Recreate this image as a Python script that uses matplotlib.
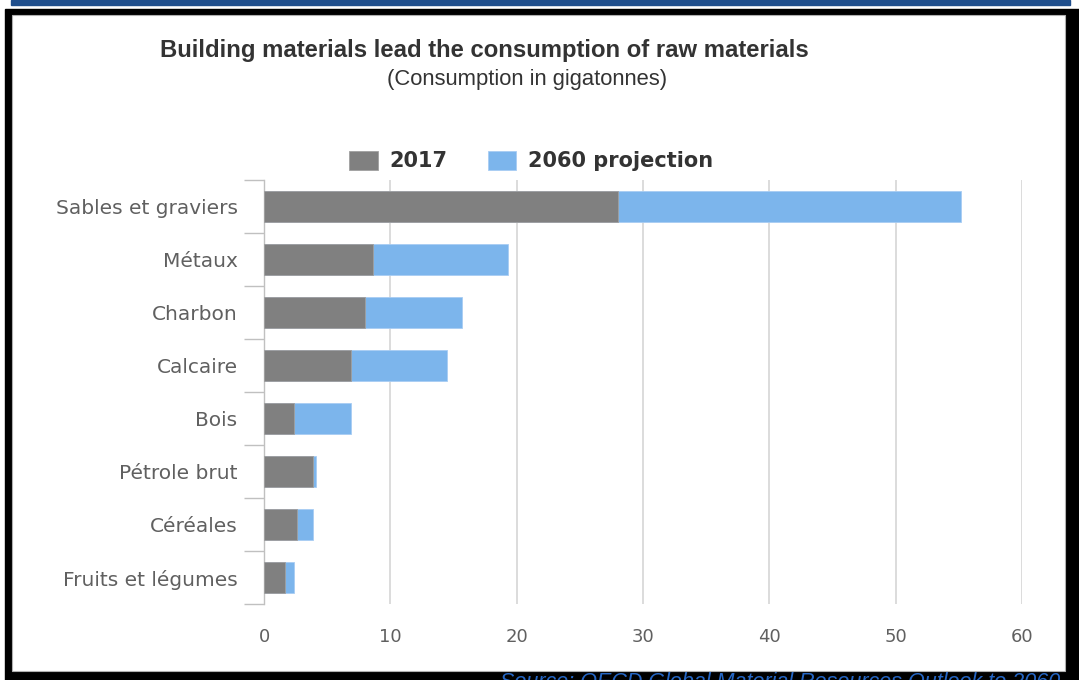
import matplotlib
matplotlib.use("Agg")
import matplotlib.pyplot as plt
from matplotlib.patches import Rectangle

W, H = 1079, 680

categories = ["Sables et graviers", "Métaux", "Charbon", "Calcaire", "Bois",
              "Pétrole brut", "Céréales", "Fruits et légumes"]
values_2017 = [28.0, 8.6, 8.0, 6.9, 2.4, 3.9, 2.6, 1.7]
values_2060 = [55.2, 19.3, 15.7, 14.5, 6.9, 4.1, 3.9, 2.4]
xticks = [0, 10, 20, 30, 40, 50, 60]

GREY = "#808080"
BLUE = "#7cb5ec"
TEXT = "#333333"
LABEL = "#606060"


def px_rect(x0, y0, x1, y1, **kw):
    # rectangle given in pixel coords measured from the top-left corner
    return Rectangle((x0 / W, 1 - y1 / H), (x1 - x0) / W, (y1 - y0) / H,
                     transform=fig.transFigure, **kw)


fig = plt.figure(figsize=(W / 100, H / 100), dpi=100)
fig.patch.set_facecolor("white")

# page furniture: blue band, black frame, white panel
fig.add_artist(px_rect(11, 0, 1070, 5, color="#1f4e8c", zorder=0))
fig.add_artist(px_rect(5, 9, 1079, 680, color="black", zorder=0))
fig.add_artist(px_rect(12, 15, 1065, 671, facecolor="white",
                       edgecolor="#b0b0b0", linewidth=0.8, zorder=0))

ax = fig.add_axes([264 / W, 1 - 604 / H, (1022 - 264) / W, (604 - 180) / H])
ax.set_facecolor("none")

ys = list(range(len(categories)))
b2060 = ax.barh(ys, values_2060, height=0.57, color=BLUE, label="2060 projection",
                edgecolor="#a8cdf3", linewidth=0.6, zorder=2)
b2017 = ax.barh(ys, values_2017, height=0.57, color=GREY, label="2017",
                edgecolor="#a0a0a0", linewidth=0.6, zorder=3)

ax.set_ylim(len(categories) - 0.5, -0.5)
ax.set_xlim(0, 60)

ax.set_yticks(ys)
ax.set_yticklabels(categories, fontsize=14.5, color=LABEL, family="DejaVu Sans")
ax.set_yticks([i - 0.5 for i in range(len(categories) + 1)], minor=True)
ax.tick_params(axis="y", which="major", length=0, pad=19)
ax.tick_params(axis="y", which="minor", length=14.4, width=1, color="#c0c0c0")

ax.set_xticks(xticks)
ax.set_xticklabels([str(t) for t in xticks], fontsize=13, color=LABEL,
                   family=["Liberation Sans Narrow", "DejaVu Sans"])
ax.tick_params(axis="x", length=0, pad=17)

for t in xticks[1:]:
    ax.axvline(t, color="#d9d9d9", linewidth=1.3, zorder=1)

for side in ["top", "right", "bottom"]:
    ax.spines[side].set_visible(False)
ax.spines["left"].set_color("#c0c0c0")
ax.spines["left"].set_linewidth(1)

fig.text(484 / W, 1 - 50 / H, "Building materials lead the consumption of raw materials",
         ha="center", va="center", fontsize=17.2, fontweight="bold", color=TEXT,
         family="Liberation Sans")
fig.text(527 / W, 1 - 79 / H, "(Consumption in gigatonnes)", ha="center", va="center",
         fontsize=15.8, color=TEXT, family="Liberation Sans")

leg = fig.legend(handles=[b2017, b2060], labels=["2017", "2060 projection"],
                 loc="center left", bbox_to_anchor=(349 / W, 1 - 161 / H),
                 ncol=2, frameon=False, borderpad=0, borderaxespad=0,
                 handlelength=1.37, handleheight=1.07, handletextpad=0.55,
                 columnspacing=1.95, prop={"family": "DejaVu Sans", "weight": "bold", "size": 15})
for txt in leg.get_texts():
    txt.set_color(TEXT)

fig.text(1060 / W, 1 - 683 / H, "Source: OECD Global Material Resources Outlook to 2060",
         ha="right", va="center", fontsize=15.5, color="#2566c4", style="italic",
         family="Liberation Sans")

fig.savefig("out.png", dpi=100)
